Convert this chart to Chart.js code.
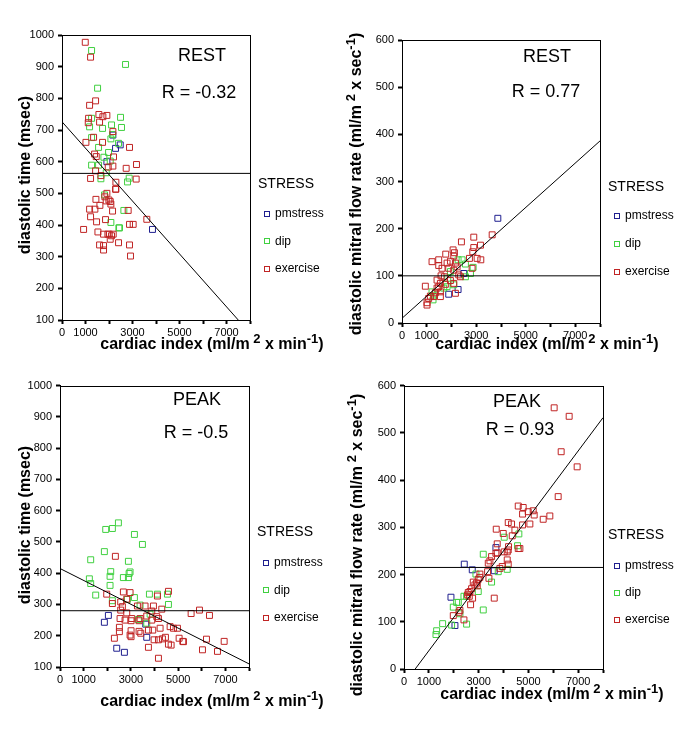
<!DOCTYPE html>
<html><head><meta charset="utf-8">
<script src="https://cdn.jsdelivr.net/npm/chart.js@4/dist/chart.umd.min.js"></script>
<style>
html,body{margin:0;padding:0;background:#fff;}
#wrap{position:relative;width:680px;height:750px;background:#fff;}
.panel{position:absolute;width:340px;height:375px;}
canvas{display:block;}
</style></head><body>
<div id="wrap">
<div class="panel" style="left:0;top:0"><canvas id="c1" width="340" height="375"></canvas></div>
<div class="panel" style="left:340px;top:0"><canvas id="c2" width="340" height="375"></canvas></div>
<div class="panel" style="left:0;top:375px"><canvas id="c3" width="340" height="375"></canvas></div>
<div class="panel" style="left:340px;top:375px"><canvas id="c4" width="340" height="375"></canvas></div>
</div>
<script>
// ---------------- DATA ----------------
const stressGroups = ['pmstress', 'dip', 'exercise'];
const xTickLabels = ['0', '1000', '3000', '5000', '7000'];
const legendTitle = 'STRESS';

// REST – diastolic time
const restTimePmstress = [[2477,653],[2278,642],[1910,600],[2165,684],[3850,386]];
const restTimeDip = [[1259,951],[2703,907],[1514,832],[2491,740],[1259,737],[2108,716],[1174,710],[2533,708],[1726,705],[2151,686],[1259,676],[2080,672],[2406,658],[1556,645],[1981,629],[1783,614],[2052,602],[1259,589],[1556,589],[1882,565],[2859,548],[1655,546],[2788,536],[1811,495],[2632,446],[2080,408],[2420,391],[2448,391]];
const restTimeExercise = [[990,977],[1216,930],[1429,792],[1174,778],[1570,749],[1910,746],[1131,737],[1740,742],[1117,723],[1599,725],[2165,695],[1018,661],[1344,677],[1726,661],[2873,645],[1386,624],[1457,616],[2193,615],[3170,591],[2165,586],[1967,583],[2731,579],[1429,571],[1655,556],[1216,547],[3156,545],[2293,535],[2293,513],[2278,513],[1910,500],[1825,489],[1443,481],[1995,479],[2052,474],[1882,476],[2080,466],[1613,462],[1174,450],[1400,450],[2816,446],[2151,444],[1216,426],[1853,417],[3609,418],[1471,410],[2873,402],[3029,402],[919,386],[1528,378],[1768,371],[2009,371],[2179,371],[1953,371],[2108,366],[2052,355],[2406,344],[1599,337],[1768,335],[2873,337],[1768,321],[2915,302]];
const restTimeMean = 563;
const restTimeFit = [[0,726],[7500,100]];
const restTimeR = 'R = -0.32';

// REST – diastolic mitral flow rate
const restFlowPmstress = [[3872,222],[2495,105],[2266,71],[1888,61]];
const restFlowDip = [[2266,134],[2428,134],[2563,125],[2874,118],[1956,109],[2766,105],[2563,98],[1848,95],[1686,74],[1821,77],[2091,81],[1213,66],[1254,49],[1308,59]];
const restFlowExercise = [[3643,187],[2900,182],[3171,165],[2401,172],[1767,146],[2064,155],[2900,160],[2118,149],[1213,130],[1483,134],[1483,122],[2860,151],[2091,142],[2725,137],[3035,137],[3184,134],[1956,131],[2158,127],[1821,127],[2226,119],[2833,116],[1618,116],[1888,116],[2091,112],[2293,102],[2361,98],[1578,100],[1713,98],[1416,91],[1956,90],[2091,84],[1551,84],[1753,82],[943,78],[1483,77],[1416,74],[1348,64],[1551,66],[2158,63],[1146,57],[1281,56],[1551,56],[1078,52],[1011,43],[1011,38]];
const restFlowMean = 100;
const restFlowFit = [[0,10],[8000,386]];
const restFlowR = 'R = 0.77';

// PEAK – diastolic time
const peakTimePmstress = [[2048,265],[1878,243],[3630,237],[3672,195],[2401,160],[2726,147]];
const peakTimeDip = [[2472,561],[1935,540],[2217,543],[3150,524],[3489,492],[1878,469],[1299,443],[2895,438],[2147,405],[2966,404],[2924,399],[2119,390],[2683,386],[2895,386],[1243,382],[1299,367],[2119,361],[1511,330],[2217,312],[3150,322],[3785,333],[4124,333],[4548,333],[3390,298],[4590,300],[2853,316],[3319,252],[3672,240],[3813,269]];
const peakTimeExercise = [[2344,454],[1977,333],[2683,340],[2966,338],[4590,342],[4124,327],[2570,308],[2217,303],[2825,317],[2641,293],[3277,295],[3601,295],[3955,295],[4308,285],[2570,282],[2825,273],[3884,279],[4096,261],[5904,282],[5550,271],[6327,265],[2542,255],[2754,250],[3037,255],[3390,255],[3672,263],[3884,250],[4167,255],[3008,248],[3347,248],[4661,229],[4802,224],[4971,224],[4237,224],[2514,227],[2514,213],[3008,216],[3347,214],[3418,208],[3743,218],[3926,218],[2966,202],[3008,197],[2302,192],[3983,187],[4167,187],[4336,190],[4463,195],[4590,173],[4703,170],[5042,192],[5198,182],[5226,181],[3743,163],[4167,128],[6200,189],[6949,182],[6031,155],[6666,150]];
const peakTimeMean = 280;
const peakTimeFit = [[0,415],[8000,110]];
const peakTimeR = 'R = -0.5';

// PEAK – diastolic mitral flow rate
const peakFlowPmstress = [[2423,222],[2744,210],[3628,208],[3695,257],[1888,152],[2048,92]];
const peakFlowDip = [[4618,286],[4029,279],[4565,261],[3186,243],[3788,206],[4150,211],[3521,184],[2892,201],[2985,164],[2517,154],[2410,154],[2115,141],[2182,141],[1981,131],[3186,125],[2249,117],[1553,96],[2517,95],[1914,93],[1312,81],[1285,73]];
const peakFlowExercise = [[6037,553],[6640,535],[6318,460],[6961,428],[6198,365],[4592,345],[4792,342],[4993,333],[5194,335],[4766,328],[5234,326],[5863,324],[5596,317],[4190,310],[4324,307],[5060,307],[4766,305],[4458,294],[4351,282],[3708,296],[3989,287],[3748,265],[4203,259],[4592,255],[4659,255],[4190,252],[4150,248],[4029,248],[3748,246],[3695,245],[3521,238],[3454,229],[3387,224],[4150,231],[4190,222],[3949,217],[3855,213],[3360,206],[3052,201],[3052,194],[2985,190],[3414,192],[2784,184],[2918,182],[2851,178],[2945,176],[2651,164],[2717,170],[2584,162],[2557,157],[2624,154],[2758,150],[2677,136],[3628,150],[2249,124],[2209,120],[1981,113],[2410,104]];
const peakFlowMean = 215;
const peakFlowFit = [[450,0],[8000,532]];
const peakFlowR = 'R = 0.93';

// ---------------- STYLE ----------------
const groupColors = ['#1f1f8f', '#40d040', '#c02424'];
const FONT = 'Arial, "Liberation Sans", "DejaVu Sans", sans-serif';
const xTitleParts = [['cardiac index (ml/m', 0], [' 2', 1], [' x min', 0], ['-1', 1], [')', 0]];
const timeTitleParts = [['diastolic time (msec)', 0]];
const flowTitleParts = [['diastolic mitral flow rate (ml/m', 0], [' 2', 1], [' x sec', 0], ['-1', 1], [')', 0]];

function drawRich(ctx, parts, cx, cy, rot) {
  ctx.save();
  ctx.translate(cx, cy);
  ctx.rotate(rot);
  ctx.textBaseline = 'alphabetic';
  ctx.textAlign = 'left';
  const fN = 'bold 16px ' + FONT, fS = 'bold 13px ' + FONT;
  let total = 0;
  parts.forEach(p => { ctx.font = p[1] ? fS : fN; total += ctx.measureText(p[0]).width; });
  let x = -total / 2;
  parts.forEach(p => {
    ctx.font = p[1] ? fS : fN;
    ctx.fillText(p[0], x, p[1] ? 0 : 6);
    x += ctx.measureText(p[0]).width;
  });
  ctx.restore();
}

const deco = {
  id: 'deco',
  afterDraw(chart, args, o) {
    const ctx = chart.ctx, a = chart.chartArea;
    ctx.save();
    ctx.strokeStyle = '#000'; ctx.lineWidth = 1;
    ctx.strokeRect(Math.round(a.left) + 0.5, Math.round(a.top) + 0.5,
                   Math.round(a.right) - Math.round(a.left), Math.round(a.bottom) - Math.round(a.top));
    ctx.fillStyle = '#000';
    ctx.textAlign = 'center'; ctx.textBaseline = 'middle';
    ctx.font = '18px ' + FONT;
    ctx.fillText(o.phase, o.phaseX, o.phaseY);
    ctx.fillText(o.r, o.rX, o.rY);
    // legend
    ctx.textAlign = 'left';
    ctx.font = '14px ' + FONT;
    ctx.fillText(legendTitle, o.legX, o.legY);
    ctx.font = '12px ' + FONT;
    stressGroups.forEach((g, i) => {
      const y = o.legY + o.legStart + i * o.legStep;
      ctx.strokeStyle = groupColors[i];
      ctx.strokeRect(Math.round(o.legX + 6) + 0.5, Math.round(y - 2.5) + 0.5, 5, 5);
      ctx.fillStyle = '#000';
      ctx.fillText(g, o.legX + 17, y + 1);
    });
    drawRich(ctx, xTitleParts, o.xtX, o.xtY, 0);
    drawRich(ctx, o.yParts, o.ytX, o.ytY, -Math.PI / 2);
    ctx.restore();
  }
};

function pts(arr) { return arr.map(p => ({x: p[0], y: p[1]})); }

function makeChart(id, p) {
  const datasets = [];
  datasets.push({data: pts(p.fit), showLine: true, borderColor: '#000', borderWidth: 1, pointRadius: 0, order: 0});
  datasets.push({data: pts([[0, p.mean], [8000, p.mean]]), showLine: true, borderColor: '#000', borderWidth: 1, pointRadius: 0, order: 1});
  p.series.forEach((s, i) => {
    datasets.push({label: stressGroups[i], data: pts(s), pointStyle: 'rect', pointRadius: 4.2,
      borderColor: groupColors[i], backgroundColor: 'rgba(0,0,0,0)', pointBorderWidth: 1, showLine: false, order: 4 - i});
  });
  const tickFont = {family: FONT, size: 11};
  return new Chart(document.getElementById(id), {
    type: 'scatter',
    data: {datasets},
    options: {
      responsive: false, animation: false, devicePixelRatio: 1,
      layout: {padding: {left: 0, top: p.area.top, right: 340 - p.area.right, bottom: 0}},
      plugins: {legend: {display: false}, tooltip: {enabled: false}, deco: p.deco},
      scales: {
        x: {
          type: 'linear', min: 0, max: 8000,
          ticks: {stepSize: 1000, autoSkip: false, maxRotation: 0, color: '#000', font: tickFont, padding: 2,
                  callback: v => xTickLabels.includes(String(v)) ? String(v) : ''},
          grid: {drawOnChartArea: false, drawTicks: true, tickLength: 4, tickWidth: 2, tickColor: '#000'},
          border: {display: true, color: '#000', width: 1},
          afterFit: s => { s.height = 375 - p.area.bottom; }
        },
        y: {
          type: 'linear', min: p.ymin, max: p.ymax,
          ticks: {stepSize: 100, autoSkip: false, color: '#000', font: tickFont, padding: 4,
                  callback: v => String(v)},
          grid: {drawOnChartArea: false, drawTicks: true, tickLength: 4, tickWidth: 2, tickColor: '#000'},
          border: {display: true, color: '#000', width: 1},
          afterFit: s => { s.width = p.area.left; }
        }
      }
    },
    plugins: [deco]
  });
}

makeChart('c1', {
  series: [restTimePmstress, restTimeDip, restTimeExercise], mean: restTimeMean, fit: restTimeFit,
  ymin: 100, ymax: 1000, area: {left: 62, top: 35, right: 250, bottom: 320},
  deco: {phase: 'REST', phaseX: 202, phaseY: 56, r: restTimeR, rX: 199, rY: 93,
         legX: 258, legY: 184, legStart: 29, legStep: 27.5,
         xtX: 212, xtY: 343, yParts: timeTitleParts, ytX: 24, ytY: 175}
});
makeChart('c2', {
  series: [restFlowPmstress, restFlowDip, restFlowExercise], mean: restFlowMean, fit: restFlowFit,
  ymin: 0, ymax: 600, area: {left: 62, top: 40, right: 260, bottom: 323},
  deco: {phase: 'REST', phaseX: 207, phaseY: 57, r: restFlowR, rX: 206, rY: 92,
         legX: 268, legY: 187, legStart: 28, legStep: 28,
         xtX: 207, xtY: 343, yParts: flowTitleParts, ytX: 15, ytY: 184}
});
makeChart('c3', {
  series: [peakTimePmstress, peakTimeDip, peakTimeExercise], mean: peakTimeMean, fit: peakTimeFit,
  ymin: 100, ymax: 1000, area: {left: 60, top: 9, right: 249, bottom: 292},
  deco: {phase: 'PEAK', phaseX: 197, phaseY: 25, r: peakTimeR, rX: 196, rY: 58,
         legX: 257, legY: 157, legStart: 30, legStep: 27.5,
         xtX: 212, xtY: 325, yParts: timeTitleParts, ytX: 24, ytY: 150}
});
makeChart('c4', {
  series: [peakFlowPmstress, peakFlowDip, peakFlowExercise], mean: peakFlowMean, fit: peakFlowFit,
  ymin: 0, ymax: 600, area: {left: 64, top: 10, right: 263, bottom: 294},
  deco: {phase: 'PEAK', phaseX: 177, phaseY: 27, r: peakFlowR, rX: 180, rY: 55,
         legX: 268, legY: 160, legStart: 30, legStep: 27,
         xtX: 212, xtY: 318, yParts: flowTitleParts, ytX: 16, ytY: 170}
});
</script>
</body></html>
